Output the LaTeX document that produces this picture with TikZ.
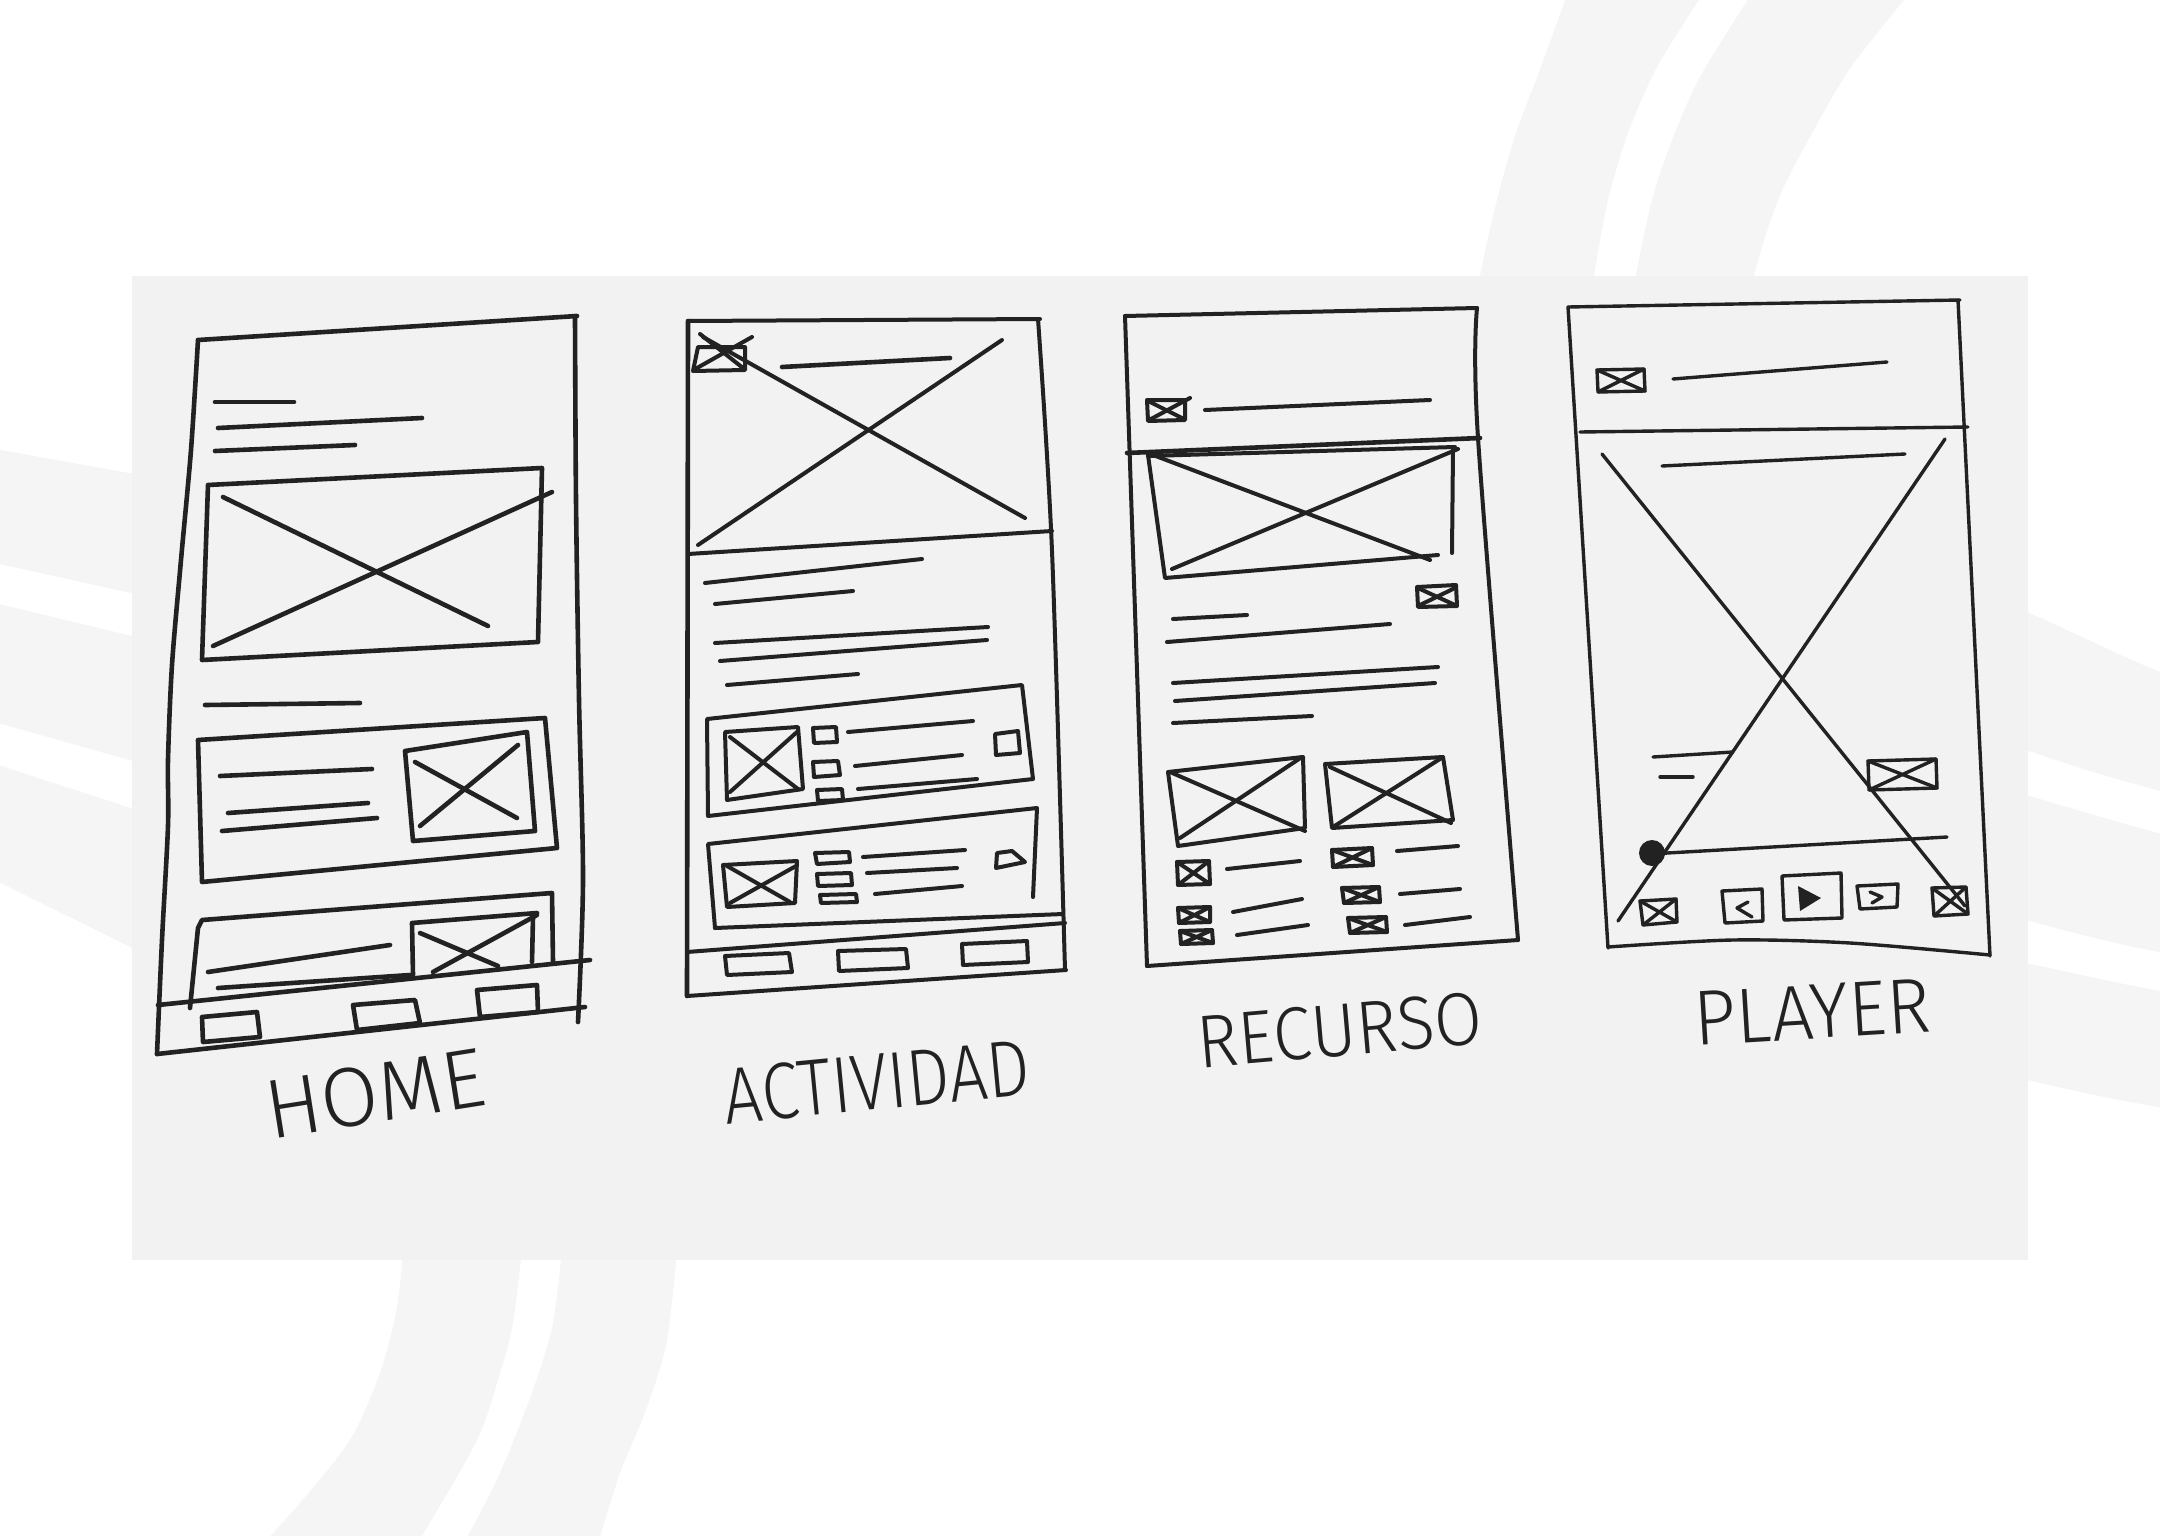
\documentclass[tikz,border=0pt]{standalone}
\usepackage{fontspec}
\newfontfamily\hand{Fira Sans Light}
\definecolor{ink}{RGB}{34,34,34}
\definecolor{paper}{RGB}{242,242,242}
\definecolor{band}{RGB}{245,245,245}
% box with a cross: corners TL, TR, BR, BL
\newcommand{\xicon}[5][sk]{\draw[#1] #2 -- #3 -- #4 -- #5 -- cycle; \draw[#1] #2 -- #4 #3 -- #5;}
% caption lettering: size, horizontal stretch, word
\newcommand{\scrawl}[3]{\hand\fontsize{#1pt}{#1pt}\selectfont\addfontfeatures{FakeStretch=#2}#3}
\begin{document}
\begin{tikzpicture}[x=1pt,y=-1pt,
  sk/.style={draw=ink,line width=4pt,line cap=round,line join=round},
  hv/.style={sk,line width=4.6pt},
  lt/.style={sk,line width=3.4pt},
  lbl/.style={inner sep=0pt,text=ink}]
\useasboundingbox (0,0) rectangle (2160,1536);
\fill[white] (0,0) rectangle (2160,1536);

% ---------- background bands ----------
\begin{scope}
\clip (0,0) rectangle (2160,1536);
% upper right
\fill[band] plot[smooth] coordinates {(1567,-5) (1541,67) (1516,133) (1497,200) (1480,276) (1472,330)}
  -- plot[smooth] coordinates {(1588,330) (1594,276) (1608,200) (1628,133) (1657,67) (1702,-5)} -- cycle;
\fill[band] plot[smooth] coordinates {(1751,-5) (1700,77) (1671,143) (1652,200) (1636,276) (1630,330)}
  -- plot[smooth] coordinates {(1748,330) (1754,276) (1778,200) (1812,133) (1851,67) (1908,-5)} -- cycle;
% lower left
\fill[band] plot[smooth] coordinates {(404,1240) (397,1307) (380,1373) (350,1440) (300,1503) (262,1545)}
  -- plot[smooth] coordinates {(417,1545) (422,1536) (477,1440) (500,1373) (513,1323) (523,1240)} -- cycle;
\fill[band] plot[smooth] coordinates {(563,1240) (553,1323) (533,1390) (500,1473) (468,1536) (463,1545)}
  -- plot[smooth] coordinates {(595,1545) (600,1536) (620,1473) (647,1407) (667,1340) (678,1240)} -- cycle;
% left side
\fill[band] (-5,449) -- (140,475) -- (140,595) -- (-5,563) -- cycle;
\fill[band] (-5,603) -- (140,638) -- (140,763) -- (-5,722) -- cycle;
\fill[band] (-5,764) -- (140,811) -- (140,952) -- (-5,880) -- cycle;
% right side
\fill[band] (2020,609) .. controls (2070,630) and (2110,652) .. (2165,674) -- (2165,792) .. controls (2110,778) and (2070,765) .. (2020,748) -- cycle;
\fill[band] (2020,793) .. controls (2070,808) and (2110,820) .. (2165,835) -- (2165,953) .. controls (2110,943) and (2070,932) .. (2020,918) -- cycle;
\fill[band] (2020,962) .. controls (2070,972) and (2110,982) .. (2165,992) -- (2165,1108) .. controls (2110,1099) and (2070,1090) .. (2020,1078) -- cycle;
\end{scope}

% ---------- paper ----------
\fill[paper] (132,276) rectangle (2028,1260);

% ================= HOME =================
\draw[hv] (198,340) -- (577,316);
\draw[hv] plot[smooth] coordinates {(198,340) (191,450) (181,560) (172,665) (168,760) (168,826) (162,940) (157,1054)};
\draw[hv] plot[smooth] coordinates {(575,316) (576,500) (579,700) (583,880) (578,1022)};
\draw[hv] (157,1054) -- (585,1007);
\draw[hv] (158,1005) -- (590,960);
% intro text
\draw[hv] (215,402) -- (294,402);
\draw[hv] (218,428) -- (422,418);
\draw[hv] (215,451) -- (355,445);
% hero image
\draw[hv] (208,485) -- (542,468) -- (538,642) -- (202,660) -- cycle;
\draw[hv] (223,497) -- (488,626);
\draw[hv] (213,646) -- (552,492);
% section title
\draw[hv] (205,705) -- (360,703);
% card 1
\draw[hv] (198,740) -- (545,718) -- (557,848) -- (202,882) -- cycle;
\draw[hv] (220,776) -- (372,769);
\draw[hv] (228,813) -- (368,803);
\draw[hv] (222,831) -- (377,818);
\draw[hv] (405,751) -- (527,732) -- (535,831) -- (413,841) -- cycle;
\draw[hv] (415,762) -- (517,818);
\draw[hv] (420,826) -- (518,745);
% card 2
\draw[hv] (190,1008) -- (198,928) -- (202,920) -- (552,893) -- (553,962);
\draw[hv] (208,972) -- (390,945);
\draw[hv] (218,988) -- (410,975);
\draw[hv] (413,975) -- (412,923) -- (537,913);
\draw[hv] (533,917) -- (532,962);
\draw[hv] (420,933) -- (498,966);
\draw[hv] (433,972) -- (537,915);
% tab bar
\draw[hv] (202,1017) -- (257,1012) -- (260,1037) -- (203,1042) -- cycle;
\draw[hv] (353,1005) -- (415,1000) -- (420,1023) -- (357,1030) -- cycle;
\draw[hv] (477,990) -- (537,985) -- (538,1012) -- (480,1017) -- cycle;

% ================= ACTIVIDAD =================
\draw[sk] (688,321) -- (1040,319);
\draw[hv] (688,321) -- (687,996);
\draw[sk] plot[smooth] coordinates {(1038,319) (1052,551) (1065,970)};
\draw[sk] (687,996) -- (1066,970);
% header
\draw[sk] (688,554) -- (1052,531);
\draw[sk] (698,545) -- (1002,340);
\draw[sk] (703,337) -- (1025,518);
\draw[sk] (698,347) -- (745,347) -- (745,370) -- (693,371) -- cycle;
\draw[sk] (697,368) -- (752,337);
\draw[sk] (700,334) -- (743,368);
\draw[hv] (782,367) -- (950,358);
% description
\draw[sk] (705,583) -- (922,559);
\draw[sk] (715,604) -- (853,591);
\draw[sk] (715,643) -- (988,627);
\draw[sk] (720,661) -- (987,640);
\draw[sk] (727,685) -- (858,674);
% card 1
\draw[sk] (707,719) -- (1022,685) -- (1033,779) -- (708,816) -- cycle;
\draw[sk] (725,732) -- (798,727) -- (803,789) -- (727,800) -- cycle;
\draw[sk] (730,737) -- (798,789);
\draw[sk] (730,792) -- (797,732);
\draw[sk] (813,728) -- (836,727) -- (837,742) -- (814,743) -- cycle;
\draw[sk] (813,762) -- (838,761) -- (840,775) -- (814,777) -- cycle;
\draw[sk] (817,790) -- (842,789) -- (843,800) -- (818,801) -- cycle;
\draw[sk] (848,732) -- (973,721);
\draw[sk] (855,766) -- (962,755);
\draw[sk] (858,789) -- (977,779);
\draw[sk] (995,734) -- (1018,731) -- (1020,753) -- (996,755) -- cycle;
% card 2
\draw[sk] (715,928) -- (708,844) -- (1037,808) -- (1033,897);
\draw[sk] (715,928) -- (1063,914);
\draw[sk] (723,865) -- (797,861) -- (795,903) -- (727,907) -- cycle;
\draw[sk] (727,866) -- (790,902);
\draw[sk] (730,903) -- (796,866);
\draw[sk] (815,853) -- (849,852) -- (850,862) -- (817,864) -- cycle;
\draw[sk] (817,874) -- (851,873) -- (852,885) -- (818,886) -- cycle;
\draw[sk] (820,895) -- (856,894) -- (857,902) -- (821,903) -- cycle;
\draw[sk] (863,857) -- (965,850);
\draw[sk] (867,873) -- (957,868);
\draw[sk] (875,894) -- (962,886);
\draw[sk] (997,853) -- (1012,851) -- (1025,862) -- (996,868) -- cycle;
% tab bar
\draw[sk] (687,952) -- (1065,923);
\draw[sk] (725,956) -- (789,953) -- (792,972) -- (727,975) -- cycle;
\draw[sk] (838,951) -- (906,949) -- (908,968) -- (839,971) -- cycle;
\draw[sk] (962,944) -- (1027,941) -- (1028,962) -- (963,965) -- cycle;

% ================= RECURSO =================
\draw[sk] (1125,316) -- (1477,308);
\draw[sk] (1125,316) -- (1147,966);
\draw[sk] plot[smooth] coordinates {(1477,308) (1478,438) (1518,940)};
\draw[sk] (1147,966) -- (1518,940);
% header
\draw[hv] (1127,453) -- (1480,438);
\draw[sk] (1148,456) -- (1455,447);
\draw[sk] (1147,400) -- (1185,400) -- (1185,420) -- (1148,421) -- cycle;
\draw[sk] (1150,402) -- (1184,419);
\draw[sk] (1151,419) -- (1190,398);
\draw[sk] (1205,410) -- (1430,400);
% hero image
\draw[sk] (1148,455) -- (1165,578) -- (1438,555);
\draw[sk] (1453,448) -- (1452,553);
\draw[sk] (1153,455) -- (1430,560);
\draw[sk] (1172,569) -- (1458,449);
\draw[sk] (1417,587) -- (1456,585) -- (1457,606) -- (1418,607) -- cycle;
\draw[sk] (1420,589) -- (1455,605);
\draw[sk] (1420,605) -- (1455,588);
% text
\draw[sk] (1173,619) -- (1247,615);
\draw[sk] (1167,642) -- (1390,624);
\draw[sk] (1173,683) -- (1438,667);
\draw[sk] (1175,701) -- (1435,683);
\draw[sk] (1173,723) -- (1312,716);
% thumbnails
\draw[sk] (1168,772) -- (1303,757) -- (1305,828) -- (1178,846) -- cycle;
\draw[sk] (1170,772) -- (1305,831);
\draw[sk] (1180,838) -- (1302,757);
\draw[sk] (1325,764) -- (1443,757) -- (1453,820) -- (1332,828) -- cycle;
\draw[sk] (1330,767) -- (1451,823);
\draw[sk] (1333,827) -- (1443,757);
% resource rows
\xicon{(1177,862)}{(1209,861)}{(1210,884)}{(1178,885)}
\draw[sk] (1227,869) -- (1300,861);
\xicon{(1178,908)}{(1210,907)}{(1210,922)}{(1179,923)}
\draw[sk] (1233,912) -- (1302,899);
\xicon{(1180,931)}{(1212,930)}{(1213,943)}{(1181,944)}
\draw[sk] (1237,935) -- (1308,925);
\xicon{(1332,850)}{(1372,848)}{(1373,865)}{(1333,867)}
\draw[sk] (1397,851) -- (1458,846);
\xicon{(1342,888)}{(1379,887)}{(1380,902)}{(1344,903)}
\draw[sk] (1400,894) -- (1460,889);
\xicon{(1348,918)}{(1386,917)}{(1387,932)}{(1350,933)}
\draw[sk] (1405,925) -- (1470,917);

% ================= PLAYER =================
\draw[lt] (1568,307) -- (1960,300);
\draw[lt] (1568,307) -- (1608,948);
\draw[lt] (1958,300) -- (1990,956);
\draw[lt] plot[smooth] coordinates {(1608,947) (1733,940) (1850,943) (1990,955)};
% header
\draw[lt] (1580,432) -- (1968,427);
\xicon[lt]{(1597,370)}{(1644,369)}{(1645,391)}{(1598,392)}
\draw[lt] (1673,379) -- (1887,362);
% artwork
\draw[lt] (1662,466) -- (1905,454);
\draw[lt] (1602,454) -- (1965,906);
\draw[lt] (1618,921) -- (1945,439);
\draw[lt] (1653,757) -- (1733,752);
\draw[lt] (1660,777) -- (1693,777);
\xicon[lt]{(1868,761)}{(1936,759)}{(1937,788)}{(1869,790)}
% progress bar
\draw[lt] (1650,854) -- (1947,837);
\fill[ink] (1652,853) circle (13);
% controls
\xicon[lt]{(1640,901)}{(1676,899)}{(1677,922)}{(1643,925)}
\draw[lt] (1722,891) -- (1762,889) -- (1763,921) -- (1725,923) -- cycle;
\draw[lt] (1748,902) -- (1737,908) -- (1752,917);
\draw[lt] (1782,876) -- (1841,873) -- (1842,918) -- (1784,920) -- cycle;
\fill[ink] (1798,886) -- (1821,898) -- (1800,911) -- cycle;
\draw[lt] (1857,886) -- (1898,884) -- (1897,907) -- (1860,909) -- cycle;
\draw[lt] (1870,892) -- (1882,897) -- (1872,903);
\xicon[lt]{(1932,888)}{(1966,887)}{(1968,914)}{(1934,916)}

% ---------- captions ----------
\node[lbl,rotate=9] (home) at (375,1094) {\scrawl{84}{1}{HOME}};
\node[lbl,rotate=5.5] (actividad) at (877,1082) {\scrawl{80}{0.85}{ACTIVIDAD}};
\node[lbl,rotate=5] (recurso) at (1340,1030) {\scrawl{75}{0.93}{RECURSO}};
\node[lbl,rotate=3.5] (player) at (1812,1012) {\scrawl{78}{0.95}{PLAYER}};
\end{tikzpicture}
\end{document}
